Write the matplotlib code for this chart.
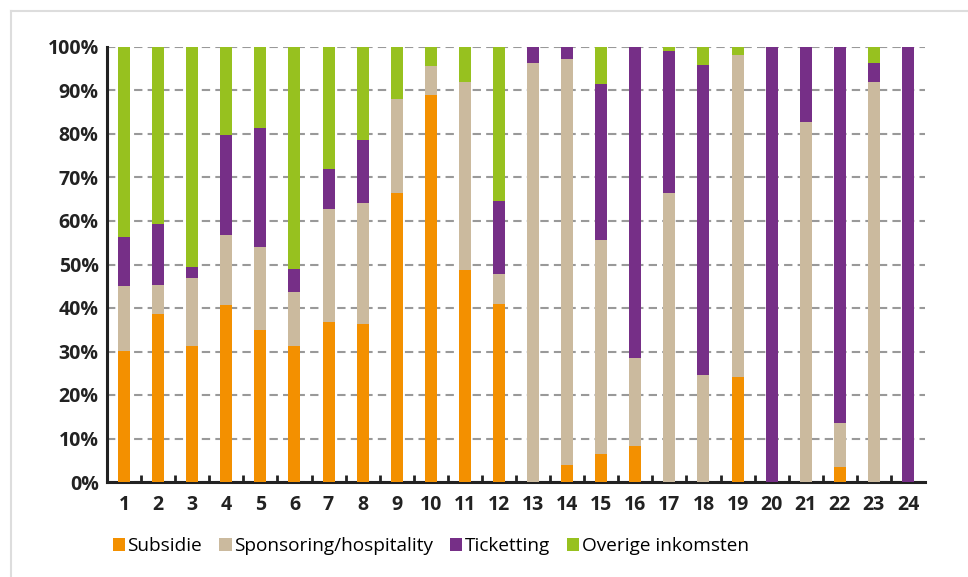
import numpy as np
import matplotlib
matplotlib.use("Agg")
from matplotlib import pyplot as plt
from matplotlib.lines import Line2D
from matplotlib.ticker import FixedLocator, FuncFormatter

# income shares per club (percent of total)
clubs = [str(i) for i in range(1, 25)]
subsidie = [30.1, 38.7, 31.3, 40.7, 34.9, 31.3, 36.8, 36.3, 66.4, 89.0, 48.7, 40.9,
            0, 4.0, 6.5, 8.3, 0, 0, 24.2, 0, 0, 3.5, 0, 0]
sponsoring = [15.0, 6.6, 15.6, 16.0, 19.1, 12.4, 25.9, 27.8, 21.6, 6.7, 43.3, 7.0,
              96.4, 93.3, 49.1, 20.2, 66.4, 24.6, 74.0, 0, 82.7, 10.1, 92.0, 0]
ticketting = [11.3, 13.9, 2.5, 23.0, 27.3, 5.2, 9.2, 14.6, 0, 0, 0, 16.6,
              3.6, 2.7, 35.9, 71.5, 32.6, 71.3, 0, 100, 17.3, 86.4, 4.4, 100]
overige = [43.6, 40.8, 50.6, 20.3, 18.7, 51.1, 28.1, 21.3, 12.0, 4.3, 8.0, 35.5,
           0, 0, 8.5, 0, 1.0, 4.1, 1.8, 0, 0, 0, 3.6, 0]
series = ["Subsidie", "Sponsoring/hospitality", "Ticketting", "Overige inkomsten"]
colors = ["#F39000", "#CBBA9E", "#762F87", "#97C11F"]
yticks = [0, 10, 20, 30, 40, 50, 60, 70, 80, 90, 100]

plt.rcParams["font.family"] = ["Open Sans", "DejaVu Sans"]

fig = plt.figure(figsize=(9.68, 5.77), dpi=100)
ax = fig.add_axes([107/968, 1-482/577, 818/968, 435/577])

x = np.arange(1, len(clubs)+1)
bottom = np.zeros(len(clubs))
for name, vals, col in zip(series, [subsidie, sponsoring, ticketting, overige], colors):
    vals = np.array(vals, dtype=float)
    ax.bar(x, vals, 0.35, bottom=bottom, color=col, label=name, zorder=3)
    bottom += vals

ax.set_xlim(0.5, 24.5)
ax.set_ylim(0, 100)
ax.set_yticks(yticks)
ax.yaxis.set_major_formatter(FuncFormatter(lambda v, p: "%d%%" % v))
ax.set_xticks(x)
ax.set_xticklabels(clubs)
ax.xaxis.set_minor_locator(FixedLocator(np.arange(1.5, 24, 1)))
ax.tick_params(axis="x", which="major", length=0, pad=9, labelsize=14, labelcolor="#222222")
ax.tick_params(axis="x", which="minor", direction="in", length=5, width=2, color="#222222")
ax.tick_params(axis="y", length=0, pad=6, labelsize=14, labelcolor="#222222")
for lbl in ax.get_xticklabels() + ax.get_yticklabels():
    lbl.set_fontweight("bold")

ax.set_axisbelow(True)
ax.yaxis.grid(True, color="#999999", linewidth=1.5, linestyle=(0, (4, 2.5)))
for s in ["top", "right"]:
    ax.spines[s].set_visible(False)
for s in ["left", "bottom"]:
    ax.spines[s].set_linewidth(2.2)
    ax.spines[s].set_color("#222222")

fig.legend(loc="center", bbox_to_anchor=(0.445, 1-546/577), ncol=4, frameon=False,
           handlelength=0.65, handleheight=0.65, handletextpad=0.12, columnspacing=0.9,
           prop={"size": 13.7})

# light frame around the figure
x0 = 11/968
y0 = 1-10.5/577
fig.add_artist(Line2D([x0, x0], [0, y0], transform=fig.transFigure, color="#dddddd", linewidth=1.5))
fig.add_artist(Line2D([x0, 1], [y0, y0], transform=fig.transFigure, color="#dddddd", linewidth=1.5))

fig.savefig("out.png", dpi=100)
